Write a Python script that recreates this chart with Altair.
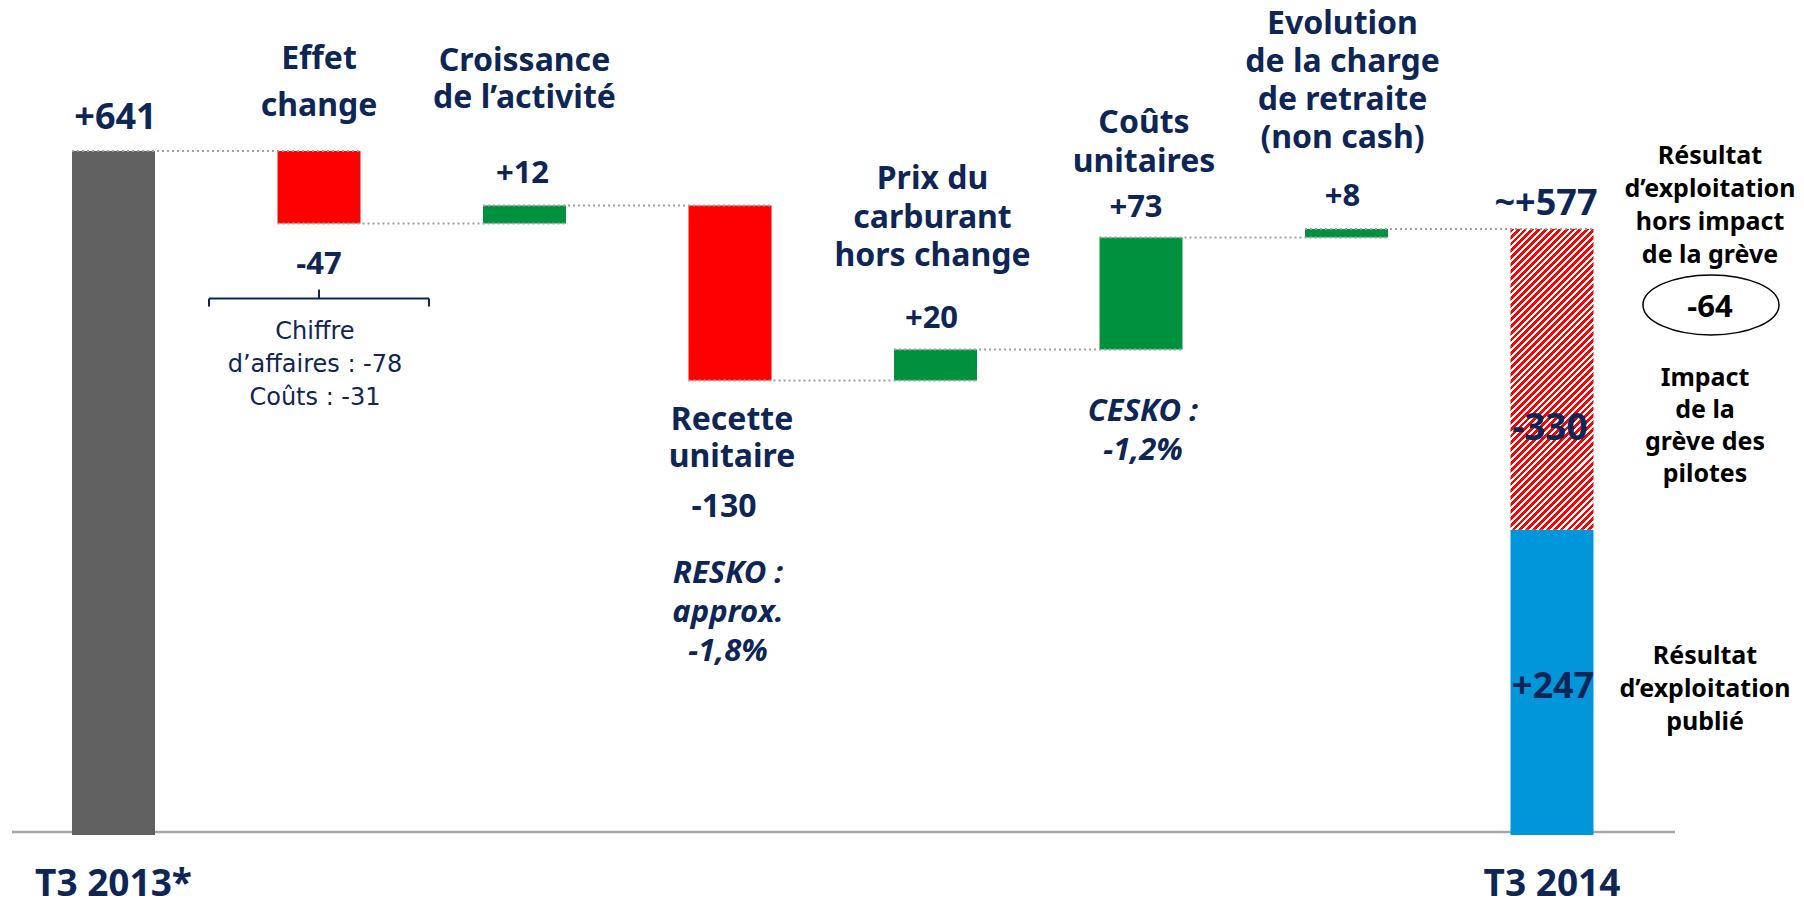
import altair as alt
import pandas as pd

# ---------------- data (as drawn in the picture) ----------------
categories = ["T3 2013*", "Effet change", "Croissance de l’activité", "Recette unitaire",
              "Prix du carburant hors change", "Coûts unitaires",
              "Evolution de la charge de retraite (non cash)", "T3 2014"]
name_lines = ["T3 2013*", "Effet\nchange", "Croissance\nde l’activité", "Recette\nunitaire",
              "Prix du\ncarburant\nhors change", "Coûts\nunitaires",
              "Evolution\nde la charge\nde retraite\n(non cash)", "T3 2014"]
value_labels = ["+641", "-47", "+12", "-130", "+20", "+73", "+8", "~+577"]
bar_from = [0, 641, 573, 590, 426, 455, 560, 0]
bar_to = [641, 573, 590, 426, 455, 560, 568, 286]
bar_kind = ["start", "neg", "pos", "neg", "pos", "pos", "pos", "end"]
strike_from = [286]
strike_to = [568]
published_label = "+247"
strike_label = "-330"
excl_strike_label = "-64"
fx_note = "Chiffre\nd’affaires : -78\nCoûts : -31"
resko_note = "RESKO :\napprox.\n-1,8%"
cesko_note = "CESKO :\n-1,2%"
right_top = "Résultat\nd’exploitation\nhors impact\nde la grève"
right_mid = "Impact\nde la\ngrève des\npilotes"
right_bot = "Résultat\nd’exploitation\npublié"

# ---------------- style ----------------
NAVY = "#0E2656"
FONT = "Noto Sans"
HALF = 0.2019  # half bar width in category steps
W, H = 1788, 890
XS = alt.Scale(domain=[-0.51338, 8.18735], nice=False, zero=False)
# zero sits 827 px below the top of the plot, 1.06709 px per unit
YS = alt.Scale(domain=[-(H - 827) / 1.06709, -(H - 827) / 1.06709 + H / 1.06709], nice=False, zero=False)


def X(f):
    return alt.X(f, type="quantitative", scale=XS, axis=None)


def Y(f):
    return alt.Y(f, type="quantitative", scale=YS, axis=None)


idx = list(range(len(categories)))
bars = pd.DataFrame({"idx": idx, "cat": categories, "y0": bar_from, "y1": bar_to, "kind": bar_kind})
bars["xl"] = bars["idx"] - HALF
bars["xr"] = bars["idx"] + HALF

bar_layer = alt.Chart(bars).mark_bar().encode(
    x=X("xl"), x2="xr", y=Y("y0"), y2="y1",
    color=alt.Color("kind:N", legend=None,
                    scale=alt.Scale(domain=["start", "neg", "pos", "end"],
                                    range=["#606060", "#FF0000", "#00913F", "#0096D9"])),
)

# hatched part of the last bar
N = 56
RED_PART = 0.55
stops = []
for i in range(N):
    a, b, c = i / N, (i + RED_PART) / N, (i + 1) / N
    stops += [alt.GradientStop(color="#FF0000", offset=a), alt.GradientStop(color="#FF0000", offset=b),
              alt.GradientStop(color="#FFFFFF", offset=b), alt.GradientStop(color="#FFFFFF", offset=c)]
hatch = alt.LinearGradient(gradient="linear", stops=stops, x1=0, y1=0, x2=0.327, y2=1.186)
strike = pd.DataFrame({"idx": [7], "y0": strike_from, "y1": strike_to})
strike["xl"] = strike["idx"] - HALF
strike["xr"] = strike["idx"] + HALF
strike_layer = alt.Chart(strike).mark_bar(color=hatch).encode(x=X("xl"), x2="xr", y=Y("y0"), y2="y1")

# connectors
conn = pd.DataFrame({"idx": idx[:-1], "lvl": bar_to[:-1]})
conn["xl"] = conn["idx"] - HALF
conn["xr"] = conn["idx"] + 1 + HALF
conn_layer = alt.Chart(conn).mark_rule(color="#A0A0A0", strokeWidth=2, strokeDash=[2, 3]).encode(
    x=X("xl"), x2="xr", y=Y("lvl"))

# baseline
base = pd.DataFrame({"a": [0], "b": [7], "v": [0]})
base_layer = alt.Chart(base).mark_rule(color="#A6A6A6", strokeWidth=2.5, xOffset=-101.5,
                                       x2Offset=123, yOffset=-3).encode(x=X("a"), x2="b", y=Y("v"))

# brace under the "Effet change" value
brace_df = pd.DataFrame({"i": [1], "v": [bar_to[1]]})
bk = dict(color=NAVY, strokeWidth=2)
brace = [
    alt.Chart(brace_df).mark_rule(xOffset=-110, x2Offset=110, yOffset=75, **bk).encode(x=X("i"), x2="i", y=Y("v")),
    alt.Chart(brace_df).mark_rule(xOffset=-110, yOffset=75, y2Offset=83, **bk).encode(x=X("i"), y=Y("v"), y2="v"),
    alt.Chart(brace_df).mark_rule(xOffset=110, yOffset=75, y2Offset=83, **bk).encode(x=X("i"), y=Y("v"), y2="v"),
    alt.Chart(brace_df).mark_rule(yOffset=66, y2Offset=75, **bk).encode(x=X("i"), y=Y("v"), y2="v"),
]

# ellipse around -64
ell_df = pd.DataFrame({"i": [7], "v": strike_to})
ellipse = alt.Chart(ell_df).mark_point(
    shape="M-1,0A1,0.441,0,1,0,1,0A1,0.441,0,1,0,-1,0Z", size=18496, filled=False,
    stroke="black", strokeWidth=1.5, opacity=1, xOffset=159, yOffset=76).encode(x=X("i"), y=Y("v"))


def label(text, i, anchor, dy, size=31, dx=0, color=NAVY, style="normal", weight="bold", lh=None, font=FONT):
    df = pd.DataFrame({"i": [i], "v": [anchor], "t": [text]})
    return alt.Chart(df).mark_text(
        align="center", baseline="alphabetic", dx=dx, dy=dy, fontSize=size, font=font,
        fontWeight=weight, fontStyle=style, color=color, lineBreak="\n",
        lineHeight=lh if lh else size * 1.2).encode(x=X("i"), y=Y("v"), text="t:N")


texts = [
    label(value_labels[0], 0, bar_to[0], -22, size=36, dx=2),
    label(name_lines[1], 1, bar_from[1], -82, size=32, lh=47),
    label(value_labels[1], 1, bar_to[1], 50),
    label(fx_note, 1, bar_to[1], 115, size=24, dx=-4, weight="normal", lh=33, font="DejaVu Sans"),
    label(name_lines[2], 2, bar_to[2], -134, size=32, lh=37),
    label(value_labels[2], 2, bar_to[2], -22, dx=-2),
    label(name_lines[3], 3, bar_to[3], 50, size=32, dx=2, lh=37),
    label(value_labels[3], 3, bar_to[3], 137, size=32, dx=-6),
    label(resko_note, 3, bar_to[3], 203, dx=-2, style="italic", lh=39),
    label(name_lines[4], 4, bar_to[4], -160, size=32, dx=-3, lh=38.5),
    label(value_labels[4], 4, bar_to[4], -21, dx=-4),
    label(name_lines[5], 5, bar_to[5], -104, size=32, dx=3, lh=39),
    label(value_labels[5], 5, bar_to[5], -20, dx=-5),
    label(cesko_note, 5, bar_from[5], 72, dx=2, style="italic", lh=39),
    label(name_lines[6], 6, bar_to[6], -195, size=32, dx=-4, lh=38),
    label(value_labels[6], 6, bar_to[6], -23, dx=-4),
    label(value_labels[7], 7, strike_to[0], -14, size=36, dx=-6),
    label(strike_label, 7, strike_from[0], -90, size=37, dx=-2),
    label(published_label, 7, bar_to[7], 168, size=36, dx=1),
    label(name_lines[0], 0, 0, 61, size=37),
    label(name_lines[7], 7, 0, 61, size=37),
    label(right_top, 7, strike_to[0], -65, size=25, dx=158, color="black", lh=33),
    label(excl_strike_label, 7, strike_to[0], 88, size=31, dx=158, color="black"),
    label(right_mid, 7, strike_from[0], -144, size=25, dx=153, color="black", lh=32),
    label(right_bot, 7, strike_from[0], 134, size=25, dx=153, color="black", lh=33),
]

chart = alt.layer(base_layer, bar_layer, strike_layer, conn_layer, *brace, ellipse, *texts).properties(
    width=W, height=H, padding=0, background="white",
    autosize=alt.AutoSizeParams(type="none"),
).configure_view(stroke=None)

chart.save("out.html", embed_options={"renderer": "svg", "actions": False})
